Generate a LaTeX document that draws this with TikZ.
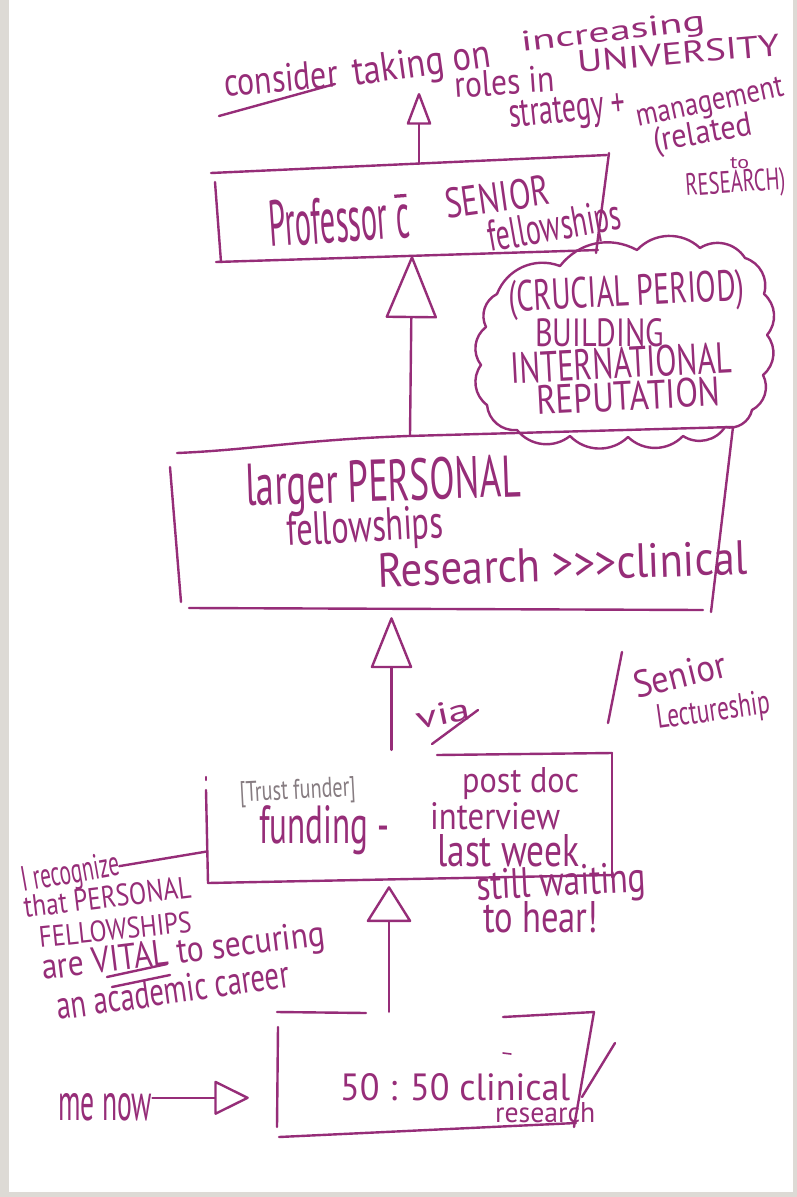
\documentclass[tikz,border=0pt]{standalone}
\usepackage{fontspec}
\setmainfont{PT Sans}
\usepackage{graphicx}
\usetikzlibrary{arrows.meta,calc}
\definecolor{ink}{RGB}{150,45,120}
\definecolor{paper}{RGB}{221,218,213}
\definecolor{pencil}{RGB}{135,125,130}
% handwritten word set to a given width and height (pt)
\newcommand\hw[3]{\resizebox{#1pt}{#2pt}{#3}}
% "c" with a bar over it (= with)
\newcommand\cbar{\makebox[0pt][l]{\raisebox{0.62em}{\rule{0.4em}{0.05em}}}c}
\newcommand\gt{>\kern0pt}
\begin{document}
\begin{tikzpicture}[x=1pt,y=-1pt,
  pen/.style={draw=ink,line width=2.4pt,line cap=round,line join=round},
  hand/.style={text=ink,inner sep=0pt,anchor=base west},
  frame/.style={inner sep=0pt,draw=none},
  up/.style 2 args={pen,-{Triangle[open,round,length=#1pt,width=#2pt]}},
]
% paper and scan border
\fill[paper] (0,0) rectangle (797,1197);
\fill[white] (9,0) rectangle (793,1192);
\useasboundingbox (0,0) rectangle (797,1197);

% anchor frames of the four stages
\node[frame,minimum width=408pt,minimum height=92pt] (prof) at (419,210) {};
\node[frame,minimum width=563pt,minimum height=173pt] (large) at (451.5,521.5) {};
\node[frame,minimum width=405pt,minimum height=133pt] (fund) at (409.5,816.5) {};
\node[frame,minimum width=224pt,minimum height=125pt] (now) at (389,1074.5) {};
\coordinate (goal) at (419,93);

% ---- top goal text
\node[hand,rotate=5] (consider) at (225,97) {\hw{114}{28}{consider}};
\draw[pen] (219,116) -- (335,84);
\node[hand,rotate=8] at (354,86) {\hw{139}{29}{taking on}};
\node[hand,rotate=7] at (522,52) {\hw{185}{20}{increasing}};
\node[hand,rotate=4] at (455,98) {\hw{100}{26}{roles in}};
\node[hand,rotate=5] at (578,73) {\hw{203}{22}{UNIVERSITY}};
\node[hand,rotate=6] at (510,128) {\hw{117}{26}{strategy +}};
\node[hand,rotate=12] at (638,127) {\hw{150}{20}{management}};
\node[hand,rotate=10] at (655,152) {\hw{100}{24}{(related}};
\node[hand] at (730,168) {\hw{19}{11}{to}};
\node[hand,rotate=4] at (686,196) {\hw{100}{22}{RESEARCH)}};

% ---- professor box
\draw[pen] (211,173) -- (607,155);
\draw[pen] (609,153) -- (596,253);
\draw[pen] (216,262) -- (598,250);
\draw[pen] (215,182) -- (221,262);
\node[hand,rotate=4] at (270,247) {\hw{141}{46}{Professor \cbar}};
\node[hand,rotate=8] at (447,219) {\hw{105}{30}{SENIOR}};
\node[hand,rotate=10] at (490,252) {\hw{135}{31}{fellowships}};

% ---- cloud
\draw[pen] (497,294) to[bend left=45] (560,266) to[bend left=40] (637,250)
  to[bend left=45] (700,248) to[bend left=45] (745,258) to[bend left=45] (764,294)
  to[bend left=45] (767,335) to[bend left=45] (763,375) to[bend left=45] (752,410)
  to[bend left=45] (725,427) to[bend left=45] (683,436) to[bend left=45] (628,437)
  to[bend left=45] (570,436) to[bend left=45] (517,430) to[bend left=45] (487,405)
  to[bend left=45] (481,365) to[bend left=45] (486,327) to[bend left=45] (497,294);
\node[hand,rotate=3] at (509,312) {\hw{236}{31}{(CRUCIAL PERIOD)}};
\node[hand] at (535,346) {\hw{129}{28}{BUILDING}};
\node[hand,rotate=3] at (511,384) {\hw{222}{31}{INTERNATIONAL}};
\node[hand,rotate=3] at (537,415) {\hw{184}{29}{REPUTATION}};

% ---- larger personal fellowships box
\draw[pen] (177,453) .. controls (250,450) and (300,440) .. (408,436) -- (733,427);
\draw[pen] (733,427) -- (711,612);
\draw[pen] (189,608) -- (703,610);
\draw[pen] (170,467) -- (181,602);
\node[hand,rotate=2] at (246,506) {\hw{275}{42}{larger PERSONAL}};
\node[hand,rotate=3] at (287,546) {\hw{157}{33}{fellowships}};
\node[hand,rotate=2] at (378,587) {\hw{370}{34}{Research \gt\gt\gt clinical}};

% ---- via / senior lectureship
\node[hand,rotate=12] at (418,730) {\hw{55}{22}{via}};
\draw[pen] (432,744) -- (478,710);
\draw[pen] (622,652) -- (608,723);
\node[hand,rotate=14] at (637,699) {\hw{94}{27}{Senior}};
\node[hand,rotate=8] at (658,729) {\hw{114}{24}{Lectureship}};

% ---- funding box
\draw[pen] (437,755) -- (612,753);
\draw[pen] (612,753) -- (612,877);
\draw[pen] (208,883) -- (612,875);
\draw[pen] (206,790) -- (208,883);
\draw[pen] (206,777) -- (206,780);
\node[hand,text=pencil,rotate=3] at (240,802) {\hw{116}{20}{[Trust funder]}};
\node[hand] at (259,843) {\hw{130}{38}{funding -}};
\node[hand] at (462,792) {\hw{117}{25}{post doc}};
\node[hand] at (430,829) {\hw{130}{27}{interview}};
\node[hand] at (437,866) {\hw{142}{32}{last week}};
\node[hand,rotate=3] at (477,900) {\hw{170}{30}{still waiting}};
\node[hand] at (483,932) {\hw{115}{31}{to hear!}};

% ---- side note
\node[hand,rotate=10] (recog) at (23,892) {\hw{99}{25}{I recognize}};
\node[hand,rotate=7] at (25,918) {\hw{168}{22}{that PERSONAL}};
\node[hand,rotate=6] at (40,948) {\hw{153}{21}{FELLOWSHIPS}};
\node[hand,rotate=7] at (43,980) {\hw{285}{26}{are VITAL to securing}};
\node[hand,rotate=8] at (58,1020) {\hw{235}{28}{an academic career}};
\draw[pen] (107,977) -- (167,964);
\draw[pen] (112,987) -- (170,975);

% ---- current position box
\draw[pen] (277,1012) -- (366,1013);
\draw[pen] (503,1017) -- (594,1012);
\draw[pen] (594,1012) -- (574,1127);
\draw[pen] (278,1027) -- (277,1127);
\draw[pen] (279,1137) -- (576,1123);
\draw[pen] (582,1097) -- (615,1043);
\draw[pen,line width=1.6pt] (503,1053) -- (511,1054);
\node[hand] at (340,1100) {\hw{230}{27}{50 : 50 clinical}};
\node[hand] at (495,1122) {\hw{100}{20}{research}};
\node[hand] (me) at (58,1120) {\hw{94}{27}{me now}};

% ---- connectors
\draw[up={34}{25}] (prof.north) -- (goal);
\draw[up={64}{52}] ([xshift=-9pt]prof.south |- large.north) -- ([xshift=-7pt]prof.south);
\draw[up={53}{42},shorten >=9pt] ([xshift=-18pt]fund.north) -- ([xshift=-18pt]fund.north |- large.south);
\draw[up={37}{46},shorten >=3pt] (now.north) -- (now.north |- fund.south);
\draw[up={36}{35},shorten >=28pt] ([yshift=9pt]me.east) -- ([yshift=9pt]me.east -| now.west);
\draw[pen] (recog.east) -- ([yshift=-35pt]fund.west);
\end{tikzpicture}
\end{document}
